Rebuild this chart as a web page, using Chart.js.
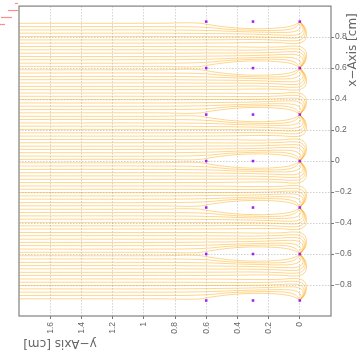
<!DOCTYPE html>
<html lang="en">
<head>
<title>Field lines</title>
<meta charset="utf-8"/>
<script src="https://cdn.jsdelivr.net/npm/chart.js"></script>
<style>
  body {
    margin: 0;
    background: #fff;
  }
  #wrap {
    width: 361px;
    height: 353px;
  }
</style>
</head>
<body>
<div id="wrap"><canvas id="chart" width="361" height="353"></canvas></div>
<script>
  // charges
  const chargeX = [0.6, 0.3, 0];
  const chargeY = [0.9, 0.6, 0.3, 0, -0.3, -0.6, -0.9];

  // every gap between two charge rows holds the same bundle of lines
  const gapBase = [-0.9, -0.6, -0.3, 0, 0.3, 0.6];
  const gapHeight = 0.3;

  // [x, height above the lower charge]; the upper half of a gap is the mirror image
  const lineShapes = [
    [[1.8, 0.011], [0.9, 0.011], [0.66, 0.009], [0.55, 0.025], [0.42, 0.04], [0.28, 0.046], [0.15, 0.042], [0.06, 0.03], [0.015, 0.012], [0, 0]],
    [[1.8, 0.032], [0.9, 0.032], [0.62, 0.036], [0.45, 0.05], [0.3, 0.056], [0.16, 0.057], [0.07, 0.05], [0.02, 0.03], [0, 0]],
    [[1.8, 0.054], [0.9, 0.054], [0.6, 0.057], [0.4, 0.064], [0.25, 0.068], [0.12, 0.07], [0.04, 0.065], [0.0, 0.046], [-0.008, 0.02], [0, 0]],
    [[1.8, 0.075], [0.9, 0.075], [0.6, 0.077], [0.35, 0.08], [0.2, 0.084], [0.08, 0.088], [0.02, 0.085], [-0.016, 0.065], [-0.018, 0.03], [0, 0]],
    [[1.8, 0.096], [0.9, 0.096], [0.55, 0.097], [0.3, 0.098], [0.15, 0.102], [0.05, 0.106], [0.0, 0.1], [-0.026, 0.075], [-0.024, 0.035], [0, 0]],
    [[1.8, 0.118], [0.9, 0.118], [0.5, 0.117], [0.28, 0.116], [0.13, 0.12], [0.04, 0.124], [-0.01, 0.115], [-0.034, 0.085], [-0.03, 0.04], [-0.01, 0.012], [0, 0]],
    [[1.8, 0.139], [0.9, 0.139], [0.5, 0.138], [0.25, 0.135], [0.12, 0.137], [0.03, 0.142], [-0.02, 0.13], [-0.042, 0.095], [-0.036, 0.045], [-0.012, 0.013], [0, 0]]
  ];

  const xTicks = [0, 0.2, 0.4, 0.6, 0.8, 1, 1.2, 1.4, 1.6];
  const yTicks = [-0.8, -0.6, -0.4, -0.2, 0, 0.2, 0.4, 0.6, 0.8];

  const fmt = v => String(Math.round(v * 10) / 10).replace('-', '\u2212');
  const lineColor = 'rgba(255,165,0,0.45)';

  const datasets = [];
  datasets.push({
    data: chargeY.flatMap(y => chargeX.map(x => ({x: x, y: y}))),
    showLine: false,
    pointStyle: 'rect',
    pointRadius: 1.8,
    pointBackgroundColor: '#a020f0',
    pointBorderWidth: 0,
    order: -1
  });
  gapBase.forEach(b => {
    lineShapes.forEach(shape => {
      datasets.push({
        data: shape.map(p => ({x: p[0], y: b + p[1]})),
        showLine: true, pointRadius: 0, borderWidth: 1,
        borderColor: lineColor, tension: 0.4
      });
      datasets.push({
        data: shape.map(p => ({x: p[0], y: b + gapHeight - p[1]})),
        showLine: true, pointRadius: 0, borderWidth: 1,
        borderColor: lineColor, tension: 0.4
      });
    });
  });

  const extras = {
    id: 'extras',
    afterDraw(chart) {
      const ctx = chart.ctx;
      const a = chart.chartArea;
      ctx.save();
      // frame
      ctx.strokeStyle = '#808080';
      ctx.lineWidth = 1.2;
      ctx.strokeRect(a.left, a.top, a.right - a.left, a.bottom - a.top);
      // cut-off legend marks
      ctx.strokeStyle = 'rgba(255,100,100,0.75)';
      ctx.lineWidth = 1.2;
      [[15, 18, 3.5], [8, 18, 10.5], [1, 12, 17.5], [0, 5, 24.5]].forEach(s => {
        ctx.beginPath();
        ctx.moveTo(s[0], s[2]);
        ctx.lineTo(s[1], s[2]);
        ctx.stroke();
      });
      // axis titles
      ctx.fillStyle = '#666';
      ctx.font = '12px "DejaVu Sans"';
      ctx.textAlign = 'center';
      ctx.textBaseline = 'middle';
      ctx.translate(60, 343);
      ctx.rotate(Math.PI);
      ctx.fillText('y\u2212Axis [cm]', 0, 0);
      ctx.restore();
      ctx.save();
      ctx.fillStyle = '#666';
      ctx.font = '12px "DejaVu Sans"';
      ctx.textAlign = 'center';
      ctx.textBaseline = 'middle';
      ctx.translate(353, 50);
      ctx.rotate(-Math.PI / 2);
      ctx.fillText('x\u2212Axis [cm]', 0, 0);
      ctx.restore();
    }
  };

  new Chart(document.getElementById('chart'), {
    type: 'scatter',
    data: {datasets: datasets},
    options: {
      responsive: false,
      animation: false,
      layout: {padding: {left: 19, top: 5, right: 0, bottom: 0}},
      plugins: {legend: {display: false}, tooltip: {enabled: false}},
      scales: {
        x: {
          type: 'linear', position: 'bottom', reverse: true, min: -0.2, max: 1.8,
          afterBuildTicks: s => { s.ticks = xTicks.map(v => ({value: v})); },
          afterFit: s => { s.height = 37; },
          ticks: {
            minRotation: 90, maxRotation: 90, padding: 3, color: '#666',
            font: {family: 'Liberation Sans', size: 8.5},
            callback: v => fmt(v)
          },
          grid: {color: 'rgba(0,0,0,0.18)', tickColor: '#777', tickLength: 3, tickBorderDash: []},
          border: {display: false, dash: [1.5, 1.5]}
        },
        y: {
          type: 'linear', position: 'right', min: -1, max: 1,
          afterBuildTicks: s => { s.ticks = yTicks.map(v => ({value: v})); },
          afterFit: s => { s.width = 30; },
          ticks: {
            padding: 1, color: '#666',
            font: {family: 'Liberation Sans', size: 8.5},
            callback: v => fmt(v)
          },
          grid: {color: 'rgba(0,0,0,0.18)', tickColor: '#777', tickLength: 3, tickBorderDash: []},
          border: {display: false, dash: [1.5, 1.5]}
        }
      }
    },
    plugins: [extras]
  });
</script>
</body>
</html>
